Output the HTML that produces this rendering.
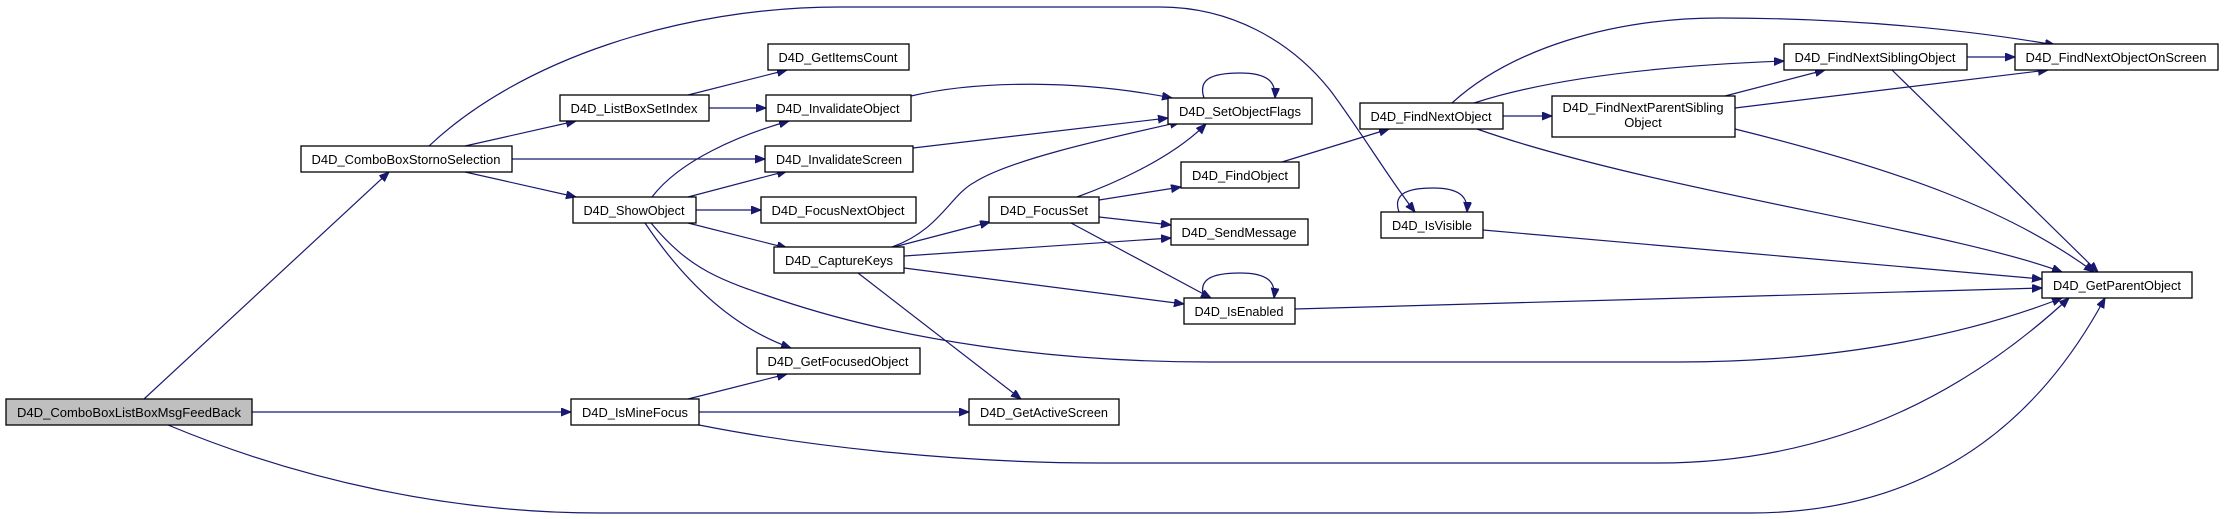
<!DOCTYPE html>
<html><head><meta charset="utf-8"><style>
html,body{margin:0;padding:0;background:#fff;}
svg{display:block;}
text{font-family:"Liberation Sans",sans-serif;font-size:13px;fill:#000;}
.e{fill:none;stroke:#191970;stroke-width:1.2;marker-end:url(#a);}
.n{fill:#fff;stroke:#000;stroke-width:1.3;}
</style></head><body>
<svg width="2224" height="519" viewBox="0 0 2224 519" xmlns="http://www.w3.org/2000/svg">
<defs><marker id="a" markerUnits="userSpaceOnUse" markerWidth="11" markerHeight="9" refX="10" refY="4" orient="auto"><path d="M0,0 L10,4 L0,8 z" fill="#191970" stroke="#191970"/></marker></defs>
<g>
<path class="e" d="M144,399 L389,172"/>
<path class="e" d="M252,412 L571,412"/>
<path class="e" d="M168,425 C300,480 450,513 600,513 L1750,513 C1950,513 2050,400 2105,298"/>
<path class="e" d="M429,146 C520,60 680,7 840,7 L1160,7 C1230,7 1290,40 1330,90 C1360,130 1390,180 1415,212"/>
<path class="e" d="M465,146 L576,121"/>
<path class="e" d="M512,159 L765,159"/>
<path class="e" d="M465,172 L576,197"/>
<path class="e" d="M688,95 L787,70"/>
<path class="e" d="M709,108 L766,108"/>
<path class="e" d="M911,96 C980,80 1080,80 1172,98"/>
<path class="e" d="M913,148 L1168,118"/>
<path class="e" d="M652,197 C680,160 740,135 789,121"/>
<path class="e" d="M688,197 L787,171"/>
<path class="e" d="M696,210 L761,210"/>
<path class="e" d="M688,223 L787,248"/>
<path class="e" d="M645,223 C690,290 740,330 791,348"/>
<path class="e" d="M651,223 C690,270 720,280 780,300 C900,340 1050,362 1211,362 L1679,362 C1850,362 1980,330 2062,298"/>
<path class="e" d="M892,247 C940,230 950,195 975,182 C1010,160 1100,140 1180,122"/>
<path class="e" d="M894,247 L990,222"/>
<path class="e" d="M904,256 L1171,238"/>
<path class="e" d="M904,268 L1184,304"/>
<path class="e" d="M858,273 L1021,399"/>
<path class="e" d="M1077,197 C1110,185 1170,160 1206,124"/>
<path class="e" d="M1099,200 L1181,187"/>
<path class="e" d="M1099,217 L1171,225"/>
<path class="e" d="M1071,223 L1211,298"/>
<path class="e" d="M1204,98 C1198,80 1210,73 1240,73 C1268,73 1276,82 1275,98"/>
<path class="e" d="M1204,298 C1198,280 1210,273 1240,273 C1268,273 1276,282 1274,298"/>
<path class="e" d="M1399,212 C1393,195 1405,188 1433,188 C1460,188 1468,197 1467,212"/>
<path class="e" d="M1295,309 L2042,288"/>
<path class="e" d="M688,399 L787,374"/>
<path class="e" d="M699,412 L969,412"/>
<path class="e" d="M699,425 C800,445 950,463 1100,463 L1658,463 C1850,463 1980,380 2069,298"/>
<path class="e" d="M1282,162 L1389,129"/>
<path class="e" d="M1503,116 L1552,116"/>
<path class="e" d="M1474,103 C1560,75 1680,65 1784,61"/>
<path class="e" d="M1452,103 C1510,50 1610,18 1720,18 C1850,18 1970,30 2055,45"/>
<path class="e" d="M1477,129 C1650,190 1950,230 2062,272"/>
<path class="e" d="M1725,96 L1825,70"/>
<path class="e" d="M1735,108 L2048,70"/>
<path class="e" d="M1735,129 C1900,170 2010,210 2094,272"/>
<path class="e" d="M1967,57 L2015,57"/>
<path class="e" d="M1892,70 L2098,272"/>
<path class="e" d="M1483,230 L2042,279"/>
</g>
<g>
<rect x="6" y="399" width="246" height="26" fill="#bfbfbf" stroke="#000" stroke-width="1.3"/>
<text x="129" y="417" text-anchor="middle" textLength="224" lengthAdjust="spacingAndGlyphs">D4D_ComboBoxListBoxMsgFeedBack</text>
<rect class="n" x="301" y="146" width="211" height="26"/>
<text x="406" y="164" text-anchor="middle" textLength="189" lengthAdjust="spacingAndGlyphs">D4D_ComboBoxStornoSelection</text>
<rect class="n" x="560" y="95" width="149" height="26"/>
<text x="634" y="113" text-anchor="middle" textLength="127" lengthAdjust="spacingAndGlyphs">D4D_ListBoxSetIndex</text>
<rect class="n" x="768" y="44" width="141" height="26"/>
<text x="838" y="62" text-anchor="middle" textLength="119" lengthAdjust="spacingAndGlyphs">D4D_GetItemsCount</text>
<rect class="n" x="766" y="95" width="145" height="26"/>
<text x="838" y="113" text-anchor="middle" textLength="123" lengthAdjust="spacingAndGlyphs">D4D_InvalidateObject</text>
<rect class="n" x="765" y="146" width="148" height="26"/>
<text x="839" y="164" text-anchor="middle" textLength="126" lengthAdjust="spacingAndGlyphs">D4D_InvalidateScreen</text>
<rect class="n" x="573" y="197" width="123" height="26"/>
<text x="634" y="215" text-anchor="middle" textLength="101" lengthAdjust="spacingAndGlyphs">D4D_ShowObject</text>
<rect class="n" x="761" y="197" width="155" height="26"/>
<text x="838" y="215" text-anchor="middle" textLength="133" lengthAdjust="spacingAndGlyphs">D4D_FocusNextObject</text>
<rect class="n" x="774" y="247" width="130" height="26"/>
<text x="839" y="265" text-anchor="middle" textLength="108" lengthAdjust="spacingAndGlyphs">D4D_CaptureKeys</text>
<rect class="n" x="989" y="197" width="110" height="26"/>
<text x="1044" y="215" text-anchor="middle" textLength="88" lengthAdjust="spacingAndGlyphs">D4D_FocusSet</text>
<rect class="n" x="757" y="348" width="163" height="26"/>
<text x="838" y="366" text-anchor="middle" textLength="141" lengthAdjust="spacingAndGlyphs">D4D_GetFocusedObject</text>
<rect class="n" x="571" y="399" width="128" height="26"/>
<text x="635" y="417" text-anchor="middle" textLength="106" lengthAdjust="spacingAndGlyphs">D4D_IsMineFocus</text>
<rect class="n" x="969" y="399" width="150" height="26"/>
<text x="1044" y="417" text-anchor="middle" textLength="128" lengthAdjust="spacingAndGlyphs">D4D_GetActiveScreen</text>
<rect class="n" x="1168" y="98" width="144" height="26"/>
<text x="1240" y="116" text-anchor="middle" textLength="122" lengthAdjust="spacingAndGlyphs">D4D_SetObjectFlags</text>
<rect class="n" x="1181" y="162" width="118" height="26"/>
<text x="1240" y="180" text-anchor="middle" textLength="96" lengthAdjust="spacingAndGlyphs">D4D_FindObject</text>
<rect class="n" x="1171" y="219" width="137" height="26"/>
<text x="1239" y="237" text-anchor="middle" textLength="115" lengthAdjust="spacingAndGlyphs">D4D_SendMessage</text>
<rect class="n" x="1184" y="298" width="111" height="26"/>
<text x="1239" y="316" text-anchor="middle" textLength="89" lengthAdjust="spacingAndGlyphs">D4D_IsEnabled</text>
<rect class="n" x="1360" y="103" width="143" height="26"/>
<text x="1431" y="121" text-anchor="middle" textLength="121" lengthAdjust="spacingAndGlyphs">D4D_FindNextObject</text>
<rect class="n" x="1381" y="212" width="102" height="26"/>
<text x="1432" y="230" text-anchor="middle" textLength="80" lengthAdjust="spacingAndGlyphs">D4D_IsVisible</text>
<rect class="n" x="1552" y="96" width="183" height="41"/>
<text x="1643" y="112" text-anchor="middle" textLength="161" lengthAdjust="spacingAndGlyphs">D4D_FindNextParentSibling</text>
<text x="1643" y="127" text-anchor="middle">Object</text>
<rect class="n" x="1784" y="44" width="183" height="26"/>
<text x="1875" y="62" text-anchor="middle" textLength="161" lengthAdjust="spacingAndGlyphs">D4D_FindNextSiblingObject</text>
<rect class="n" x="2015" y="44" width="203" height="26"/>
<text x="2116" y="62" text-anchor="middle" textLength="181" lengthAdjust="spacingAndGlyphs">D4D_FindNextObjectOnScreen</text>
<rect class="n" x="2042" y="272" width="150" height="26"/>
<text x="2117" y="290" text-anchor="middle" textLength="128" lengthAdjust="spacingAndGlyphs">D4D_GetParentObject</text>
</g>
</svg>
</body></html>
